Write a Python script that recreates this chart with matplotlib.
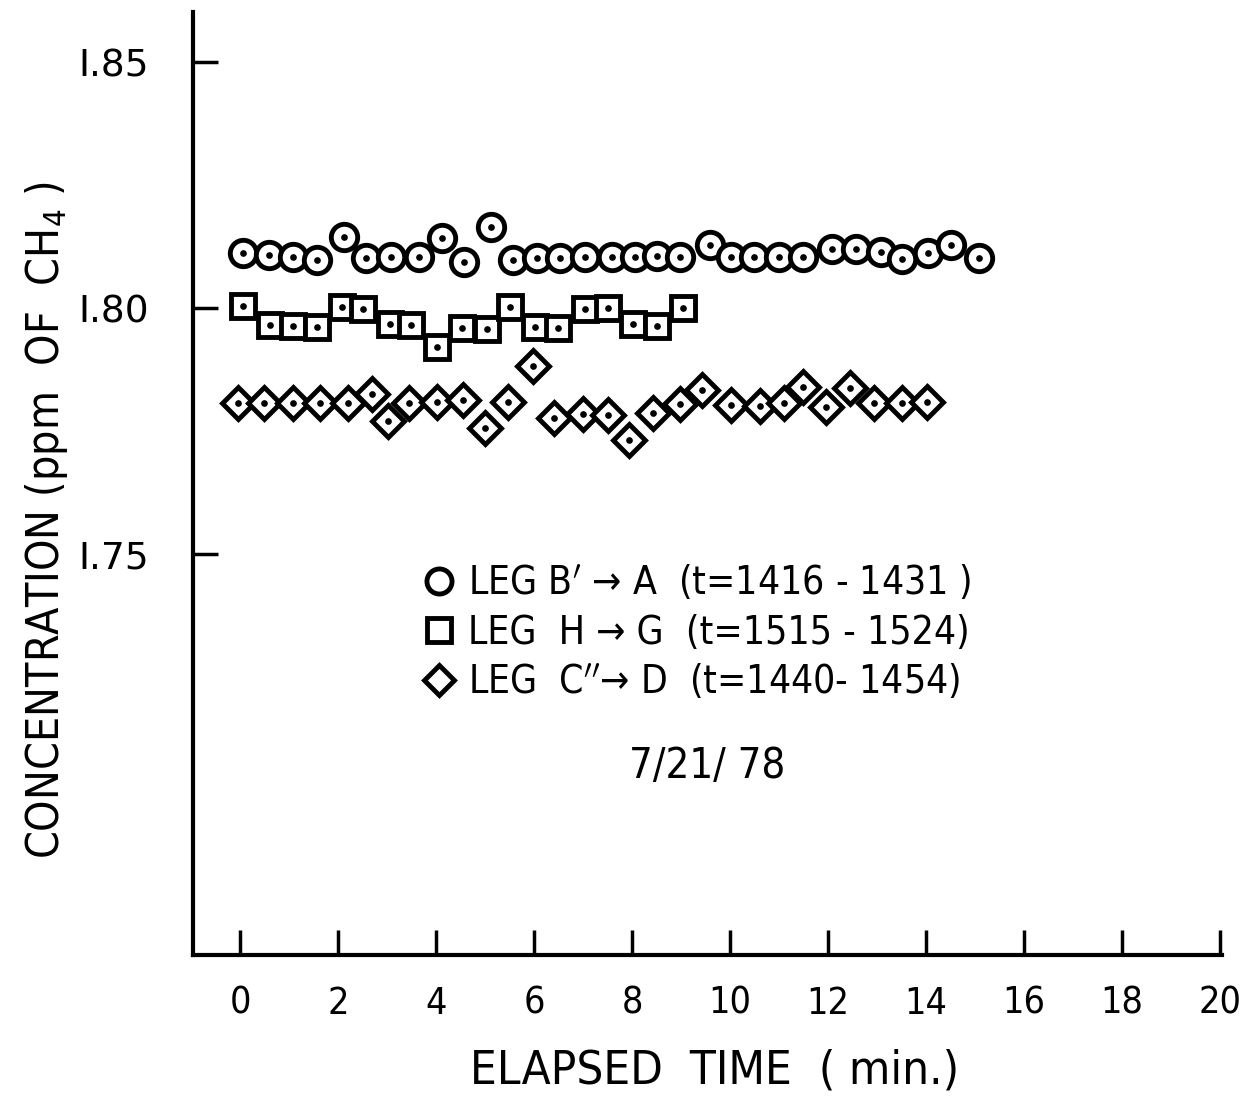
#!/usr/bin/env python3

import matplotlib
matplotlib.use("Agg")
import matplotlib.pyplot as plt

# elapsed time (min) and CH4 concentration (ppm) for each leg
t_bA = [0.06, 0.59, 1.08, 1.57, 2.12, 2.57, 3.08, 3.65, 4.12, 4.57, 5.12,
        5.57, 6.06, 6.53, 7.04, 7.59, 8.06, 8.51, 8.98, 9.59, 10.02, 10.49,
        11.0, 11.49, 12.08, 12.57, 13.08, 13.51, 14.04, 14.51, 15.08]
c_bA = [1.8112, 1.8108, 1.8104, 1.8098, 1.8144, 1.8102, 1.8104, 1.8104,
        1.8142, 1.8094, 1.8165, 1.8098, 1.8102, 1.8102, 1.8104, 1.8104,
        1.8104, 1.8106, 1.8104, 1.8128, 1.8104, 1.8104, 1.8104, 1.8104,
        1.8120, 1.8120, 1.8114, 1.8100, 1.8112, 1.8128, 1.8102]

t_hG = [0.06, 0.61, 1.08, 1.57, 2.08, 2.51, 3.06, 3.49, 4.02, 4.53, 5.04,
        5.51, 6.02, 6.49, 7.04, 7.51, 8.02, 8.51, 9.04]
c_hG = [1.8004, 1.7965, 1.7963, 1.7961, 1.8002, 1.7998, 1.7967, 1.7965,
        1.7921, 1.7959, 1.7957, 1.8002, 1.7961, 1.7959, 1.7998, 1.8000,
        1.7967, 1.7963, 1.8000]

t_cD = [-0.04, 0.49, 1.08, 1.63, 2.20, 2.69, 3.02, 3.45, 4.02, 4.55, 5.00,
        5.47, 5.98, 6.41, 7.00, 7.51, 7.94, 8.43, 8.98, 9.43, 10.02, 10.61,
        11.10, 11.49, 11.96, 12.45, 12.94, 13.51, 14.02]
c_cD = [1.7807, 1.7807, 1.7807, 1.7807, 1.7807, 1.7825, 1.7770, 1.7807,
        1.7809, 1.7813, 1.7756, 1.7809, 1.7882, 1.7776, 1.7785, 1.7782,
        1.7732, 1.7787, 1.7805, 1.7833, 1.7803, 1.7801, 1.7807, 1.7839,
        1.7799, 1.7837, 1.7807, 1.7807, 1.7809]

labels = ["LEG B$'$ \u2192 A  (t=1416 - 1431 )",
          "LEG  H \u2192 G  (t=1515 - 1524)",
          "LEG  C$''$\u2192 D  (t=1440- 1454)"]

x_ticks = list(range(0, 21, 2))
y_ticks = [1.75, 1.80, 1.85]
y_ticklabels = ["I.75", "I.80", "I.85"]


def main():
    plt.rcParams["font.family"] = ["DejaVu Sans"]
    plt.rcParams["font.stretch"] = "condensed"
    fig = plt.figure(figsize=(12.51, 10.98), dpi=100)
    ax = fig.add_axes([0.1543, 0.1302, 0.8226, 0.8588])

    series = [(t_bA, c_bA, "o", 19), (t_hG, c_hG, "s", 17.5), (t_cD, c_cD, "D", 16)]
    for (t, c, m, ms), lab in zip(series, labels):
        ax.plot(t, c, ls="none", marker=m, ms=ms, mfc="white", mec="black",
                mew=3.5, label=lab)
        ax.plot(t, c, ls="none", marker="o", ms=3.8, color="black")

    ax.set_xlim(-0.96, 20.04)
    ax.set_ylim(1.6685, 1.8602)
    ax.set_xticks(x_ticks)
    ax.set_xticklabels([str(v) for v in x_ticks])
    ax.set_yticks(y_ticks)
    ax.set_yticklabels(y_ticklabels, fontstretch="normal")

    for s in ["top", "right"]:
        ax.spines[s].set_visible(False)
    for s in ["left", "bottom"]:
        ax.spines[s].set_linewidth(3)

    ax.tick_params(axis="x", direction="in", length=18, width=2.5, pad=22,
                   labelsize=27)
    ax.tick_params(axis="y", direction="in", length=18, width=2.5, pad=32,
                   labelsize=27)

    fig.text(0.571, 0.025, "ELAPSED  TIME  ( min.)", fontsize=34,
             ha="center", va="center")
    fig.text(0.037, 0.526, "CONCENTRATION (ppm  OF  CH$_4$ )", fontsize=32,
             rotation=90, ha="center", va="center")

    ax.legend(loc="upper left", bbox_to_anchor=(0.19, 0.452), frameon=False,
              fontsize=28, handletextpad=0.35, labelspacing=0.28,
              handlelength=0.8, markerscale=0.95)

    ax.text(0.5, 0.201, "7/21/ 78", transform=ax.transAxes, fontsize=30,
            ha="center", va="center")

    fig.savefig("out.png", dpi=100)


if __name__ == "__main__":
    main()
